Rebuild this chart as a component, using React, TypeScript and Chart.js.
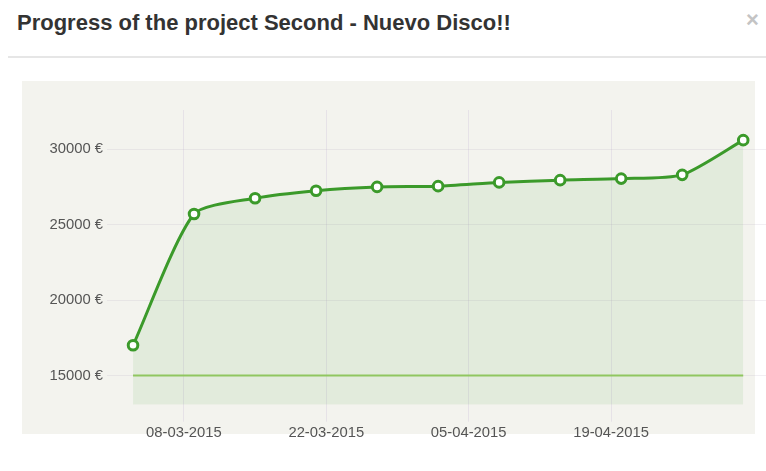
import React, { useEffect, useRef } from "react";
import { Chart, registerables } from "chart.js";

Chart.register(...registerables);

const dates = [
  "03-03-2015", "09-03-2015", "15-03-2015", "21-03-2015", "27-03-2015", "02-04-2015",
  "08-04-2015", "14-04-2015", "20-04-2015", "26-04-2015", "02-05-2015",
];
const amounts = [17000, 25700, 26750, 27250, 27500, 27550, 27800, 27950, 28050, 28300, 30600];
const goal = 15000;
const xTickLabels = ["08-03-2015", "22-03-2015", "05-04-2015", "19-04-2015"];
const yTickValues = [15000, 20000, 25000, 30000];
const title = "Progress of the project Second - Nuevo Disco!!";

const toDay = (s: string) => {
  const [d, m, y] = s.split("-").map(Number);
  return Date.UTC(y, m - 1, d) / 86400000;
};
const day0 = toDay(dates[0]);
const pad = (n: number) => (n < 10 ? "0" + n : "" + n);
const fmtDay = (v: number) => {
  const dt = new Date((v + day0) * 86400000);
  return `${pad(dt.getUTCDate())}-${pad(dt.getUTCMonth() + 1)}-${dt.getUTCFullYear()}`;
};

export default function App() {
  const ref = useRef<HTMLCanvasElement>(null);
  useEffect(() => {
    const ctx = ref.current!;
    const pts = dates.map((d, i) => ({ x: toDay(d) - day0, y: amounts[i] }));
    const goalPts = [
      { x: pts[0].x, y: goal },
      { x: pts[pts.length - 1].x, y: goal },
    ];
    const font = { family: "'Liberation Sans', Arial, sans-serif", size: 14.8 };
    const chart = new Chart(ctx, {
      type: "line",
      data: {
        datasets: [
          {
            data: goalPts,
            borderColor: "#90c660",
            borderWidth: 2,
            pointRadius: 0,
            fill: false,
          },
          {
            data: pts,
            borderColor: "#3b9a2a",
            borderWidth: 3,
            backgroundColor: "rgba(60,150,40,0.09)",
            fill: "start",
            tension: 0.22,
            pointRadius: 4.8,
            pointBorderWidth: 3,
            pointBackgroundColor: "#ffffff",
            pointBorderColor: "#3b9a2a",
          },
        ],
      },
      options: {
        animation: false,
        responsive: false,
        devicePixelRatio: 1,
        layout: { autoPadding: false, padding: { top: 29, left: 0, right: 0, bottom: 0 } },
        plugins: { legend: { display: false }, tooltip: { enabled: false } },
        scales: {
          x: {
            type: "linear",
            min: -2.56,
            max: 62.24,
            afterFit: (s: any) => {
              s.height = 66.3;
            },
            afterBuildTicks: (s: any) => {
              s.ticks = xTickLabels.map((t) => ({ value: toDay(t) - day0 }));
            },
            border: { display: false },
            grid: { color: "#e6e2e7", tickLength: 17, lineWidth: 1 },
            ticks: {
              padding: 2,
              color: "#555555",
              font,
              maxRotation: 0,
              autoSkip: false,
              callback: (v: any) => fmtDay(Number(v)),
            },
          },
          y: {
            min: 13060,
            max: 32600,
            afterFit: (s: any) => {
              s.width = 107;
            },
            afterBuildTicks: (s: any) => {
              s.ticks = yTickValues.map((v) => ({ value: v }));
            },
            border: { display: false },
            grid: { color: "rgba(185,175,195,0.2)", drawTicks: false },
            ticks: {
              padding: 4,
              color: "#555555",
              font,
              callback: (v: any) => `${v} €`,
            },
          },
        },
      },
    });
    return () => chart.destroy();
  }, []);

  return (
    <div style={{ position: "absolute", left: 0, top: 0, width: 766, height: 471, background: "#fff", overflow: "hidden" }}>
      <div
        style={{
          position: "absolute",
          left: 17,
          top: 10,
          font: "bold 22px 'Liberation Sans', Arial, sans-serif",
          lineHeight: "26px",
          color: "#333333",
          whiteSpace: "nowrap",
        }}
      >
        {title}
      </div>
      <div
        style={{
          position: "absolute",
          left: 746,
          top: 7,
          font: "bold 22px 'Liberation Sans', Arial, sans-serif",
          lineHeight: "26px",
          color: "#c4c4c4",
        }}
      >
        ×
      </div>
      <div style={{ position: "absolute", left: 8, top: 56, width: 758, height: 1.5, background: "#e6e6e6" }} />
      <div style={{ position: "absolute", left: 22, top: 81, width: 733, height: 353, background: "#f3f3ee" }} />
      <canvas ref={ref} width={766} height={390} style={{ position: "absolute", left: 0, top: 81, width: 766, height: 390 }} />
    </div>
  );
}
